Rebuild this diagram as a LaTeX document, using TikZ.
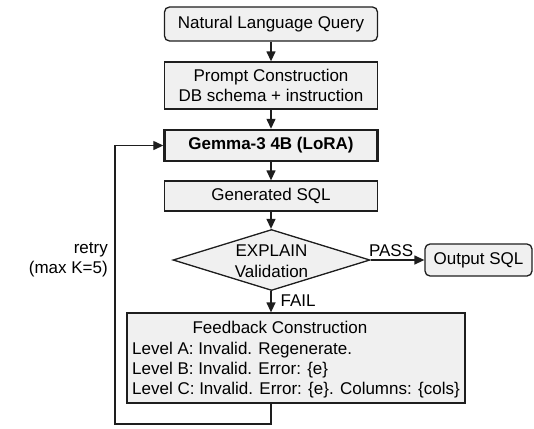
\documentclass[tikz,border=0pt]{standalone}
\usepackage{fontspec}
\setmainfont{Liberation Sans}
\usetikzlibrary{shapes.geometric,arrows.meta}
\definecolor{boxfill}{RGB}{240,240,240}
\definecolor{edge}{RGB}{30,30,30}
\begin{document}
\begin{tikzpicture}[x=1pt,y=-1pt,
  every node/.style={font=\fontsize{17}{20.5}\selectfont, inner sep=0pt},
  box/.style={draw=edge, fill=boxfill, line width=1.3pt, minimum width=213pt, align=center},
  rbox/.style={box, rounded corners=5pt},
  arr/.style={-{Triangle[length=10pt,width=9pt]}, line width=1.3pt, draw=edge}]
\useasboundingbox (0,0) rectangle (534,428);

\node[rbox, minimum height=34pt] (nlq) at (271,24) {Natural Language Query};
\node[box, minimum height=47pt] (prompt) at (271,85.5) {Prompt Construction\\DB schema + instruction};
\node[box, minimum height=31pt, line width=2.4pt, font=\fontsize{17}{20.5}\selectfont\bfseries] (gemma) at (271,145.5) {Gemma-3 4B (LoRA)};
\node[box, minimum height=30pt] (gen) at (271,196) {Generated SQL};
\node[diamond, draw=edge, fill=boxfill, line width=1.3pt, minimum width=197pt, minimum height=61pt] (val) at (271.5,260) {};
\node[align=center] (valtxt) at (271.5,261) {EXPLAIN\\Validation};
\node[rbox, minimum width=107pt, minimum height=32pt] (out) at (478.5,260) {Output SQL};
\node[box, minimum width=338pt, minimum height=90pt] (fb) at (296,358) {};
\node (fbt) at (280,327) {Feedback Construction};
\node[anchor=west] (fa) at (132,350) {Level A: Invalid. Regenerate.};
\node[anchor=west] (fbb) at (132,370) {Level B: Invalid. Error: \{e\}};
\node[anchor=west] (fc) at (132,390) {Level C: Invalid. Error: \{e\}. Columns: \{cols\}};
\node[align=right, anchor=east] (retry) at (108,260) {retry\\(max K=5)};

\draw[arr] (nlq) -- (prompt);
\draw[arr] (prompt) -- (gemma);
\draw[arr] (gemma) -- (gen);
\draw[arr] (gen) -- (val.north -| gen.south);
\draw[arr] (val.east) -- node[pos=0.38, above=3pt] (pass) {PASS} (out.west);
\draw[arr] (val.south -| gen.south) -- node[pos=0.45, right=9pt] (fail) {FAIL} (fb.north -| gen.south);
\coordinate (lp) at (115,424);
\draw[arr] (fb.south -| gen.south) |- (lp) |- (gemma.west);
\end{tikzpicture}
\end{document}
